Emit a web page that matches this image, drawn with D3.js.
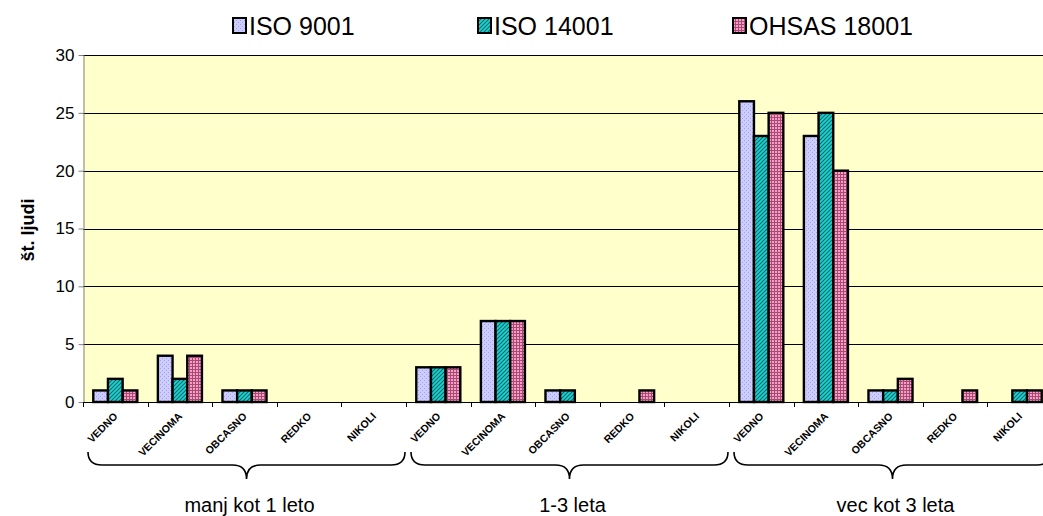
<!DOCTYPE html>
<html>
<head>
<meta charset="utf-8">
<script src="https://cdn.jsdelivr.net/npm/d3@7"></script>
<style>
  html, body { margin: 0; padding: 0; background: #ffffff; }
  svg { display: block; font-family: "Liberation Sans", Arial, sans-serif; }
</style>
</head>
<body>
<svg id="chart" width="1043" height="516"></svg>
<script>
// Survey answers, grouped by length of use of the management system
const groups = ["manj kot 1 leto", "1-3 leta", "vec kot 3 leta"];
const answers = ["VEDNO", "VECINOMA", "OBCASNO", "REDKO", "NIKOLI"];
const series = ["ISO 9001", "ISO 14001", "OHSAS 18001"];

// values per series, in order: group 1 answers, group 2 answers, group 3 answers
const iso9001  = [1, 4, 1, 0, 0,   3, 7, 1, 0, 0,   26, 23, 1, 0, 0];
const iso14001 = [2, 2, 1, 0, 0,   3, 7, 1, 0, 0,   23, 25, 1, 0, 1];
const ohsas    = [1, 4, 1, 0, 0,   3, 7, 0, 1, 0,   25, 20, 2, 1, 1];

const yTicks = [0, 5, 10, 15, 20, 25, 30];
const yTitle = "št. ljudi";

const valuesBySeries = [iso9001, iso14001, ohsas];
const cats = [];
groups.forEach((g, gi) => answers.forEach((a, ai) => cats.push({ key: gi + "-" + ai, group: gi, label: a })));

const svg = d3.select("#chart");
const plot = { left: 83, top: 55, right: 1052, bottom: 402 };

// ---- fill patterns for the three series ----
const defs = svg.append("defs");
const pLav = defs.append("pattern").attr("id", "pat0").attr("patternUnits", "userSpaceOnUse")
  .attr("width", 4).attr("height", 4);
pLav.append("rect").attr("width", 4).attr("height", 4).attr("fill", "#ccccff");
pLav.append("rect").attr("x", 0).attr("y", 0).attr("width", 1).attr("height", 1).attr("fill", "#a3a3dd");
pLav.append("rect").attr("x", 2).attr("y", 2).attr("width", 1).attr("height", 1).attr("fill", "#a3a3dd");

const pTeal = defs.append("pattern").attr("id", "pat1").attr("patternUnits", "userSpaceOnUse")
  .attr("width", 4).attr("height", 4);
pTeal.append("rect").attr("width", 4).attr("height", 4).attr("fill", "#1cd2d2");
pTeal.append("path").attr("d", "M-1,1 L1,-1 M0,4 L4,0 M3,5 L5,3")
  .attr("stroke", "#0a6a6a").attr("stroke-width", 1.1);

const pPink = defs.append("pattern").attr("id", "pat2").attr("patternUnits", "userSpaceOnUse")
  .attr("width", 3).attr("height", 3);
pPink.append("rect").attr("width", 3).attr("height", 3).attr("fill", "#ff99cc");
pPink.append("rect").attr("x", 0).attr("y", 0).attr("width", 3).attr("height", 1).attr("fill", "#a0506e");
pPink.append("rect").attr("x", 0).attr("y", 0).attr("width", 1).attr("height", 3).attr("fill", "#a0506e");

// ---- scales ----
const x0 = d3.scaleBand().domain(cats.map(c => c.key)).range([plot.left, plot.right]).padding(0);
const x1 = d3.scaleBand().domain(series).range([0, x0.bandwidth()]).paddingInner(0).paddingOuter(0.7);
const y = d3.scaleLinear().domain([0, 30]).range([plot.bottom, plot.top]);

// ---- plot background & gridlines ----
svg.append("rect").attr("x", plot.left).attr("y", plot.top)
  .attr("width", plot.right - plot.left).attr("height", plot.bottom - plot.top)
  .attr("fill", "#ffffcc");

svg.append("g").selectAll("line").data(yTicks.filter(v => v > 0)).join("line")
  .attr("x1", plot.left).attr("x2", plot.right)
  .attr("y1", d => Math.round(y(d)) + 0.5).attr("y2", d => Math.round(y(d)) + 0.5)
  .attr("stroke", "#000").attr("stroke-width", 1);

// ---- y axis ----
const yAxis = svg.append("g").attr("transform", `translate(${plot.left + 0.5},0)`)
  .call(d3.axisLeft(y).tickValues(yTicks).tickSize(5).tickSizeOuter(0).tickPadding(4));
yAxis.select(".domain").attr("stroke", "#808080");
yAxis.selectAll(".tick line").attr("stroke", "#808080");
yAxis.selectAll(".tick text").attr("font-size", 17).attr("fill", "#000")
  .attr("font-family", "Liberation Sans, Arial, sans-serif");

svg.append("text").attr("transform", `translate(34,230) rotate(-90)`)
  .attr("text-anchor", "middle").attr("font-size", 18).attr("font-weight", "bold")
  .text(yTitle);

// ---- bars ----
const barData = [];
cats.forEach((c, i) => series.forEach((s, si) => {
  barData.push({ key: c.key, series: s, si, value: valuesBySeries[si][i] });
}));

svg.append("g").selectAll("rect").data(barData.filter(d => d.value > 0)).join("rect")
  .attr("x", d => x0(d.key) + x1(d.series))
  .attr("y", d => y(d.value))
  .attr("width", x1.bandwidth())
  .attr("height", d => y(0) - y(d.value))
  .attr("fill", d => `url(#pat${d.si})`)
  .attr("stroke", "#000").attr("stroke-width", 2.4)
  .attr("stroke-linejoin", "miter");

// ---- x axis ----
svg.append("line").attr("x1", plot.left).attr("x2", plot.right)
  .attr("y1", plot.bottom + 0.5).attr("y2", plot.bottom + 0.5)
  .attr("stroke", "#000").attr("stroke-width", 1);

const boundaries = cats.map(c => x0(c.key)).concat([plot.right]);
svg.append("g").selectAll("line").data(boundaries).join("line")
  .attr("x1", d => Math.round(d) + 0.5).attr("x2", d => Math.round(d) + 0.5)
  .attr("y1", plot.bottom).attr("y2", plot.bottom + 5)
  .attr("stroke", "#000");

svg.append("g").selectAll("text").data(cats).join("text")
  .attr("transform", d => `translate(${x0(d.key) + x0.bandwidth() / 2 + 3},${plot.bottom + 15}) rotate(-45)`)
  .attr("text-anchor", "end")
  .attr("font-size", 10.5).attr("font-weight", "bold")
  .text(d => d.label);

// ---- curly braces under each group with its label ----
function bracePath(a, b, top, mid, tip) {
  const c = (a + b) / 2, r = 14;
  return `M${a},${top} Q${a},${mid} ${a + r},${mid} L${c - r},${mid} Q${c},${mid} ${c},${tip} ` +
         `Q${c},${mid} ${c + r},${mid} L${b - r},${mid} Q${b},${mid} ${b},${top}`;
}
groups.forEach((g, gi) => {
  const a = x0(gi + "-0") + 5;
  const b = x0(gi + "-4") + x0.bandwidth() - 1;
  svg.append("path").attr("d", bracePath(a, b, 452, 465, 479))
    .attr("fill", "none").attr("stroke", "#000").attr("stroke-width", 1.6);
  svg.append("text").attr("x", (a + b) / 2 + 3).attr("y", 512)
    .attr("text-anchor", "middle").attr("font-size", 20)
    .text(g);
});

// ---- legend ----
const legendX = [233, 478, 733];
const legend = svg.append("g");
series.forEach((s, si) => {
  legend.append("rect").attr("x", legendX[si]).attr("y", 18).attr("width", 13).attr("height", 15)
    .attr("fill", `url(#pat${si})`).attr("stroke", "#000").attr("stroke-width", 2);
  legend.append("text").attr("x", legendX[si] + 16).attr("y", 35)
    .attr("font-size", 25).text(s);
});
</script>
</body>
</html>
